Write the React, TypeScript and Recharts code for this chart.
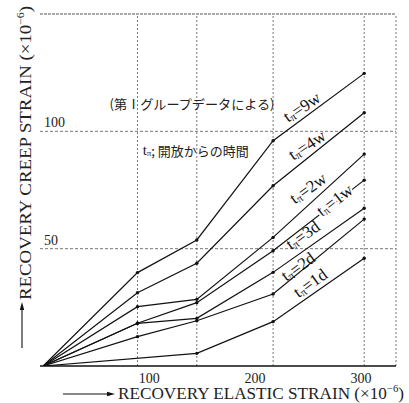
import React from 'react';
import { LineChart, Line, XAxis, YAxis, ReferenceLine, ReferenceDot } from 'recharts';

const SERIF = "'Liberation Serif', 'Noto Sans CJK JP', serif";
const CJK = "'Noto Sans CJK JP', 'Liberation Serif', serif";

// recovery elastic strain (x10^-6)
const xValues = [0, 89, 145, 217, 303];
// recovery creep strain (x10^-6) per age after unloading
const s9w = [0, 39.8, 53.7, 96.0, 124.7];
const s4w = [0, 31.2, 43.8, 76.8, 107.9];
const s2w = [0, 25.3, 28.4, 54.8, 90.3];
const s1w = [0, 18.2, 27.0, 49.1, 79.2];
const s3d = [0, 18.2, 20.3, 39.9, 67.2];
const s2d = [0, 12.5, 19.3, 30.7, 62.6];
const s1d = [0, null, 5.4, 18.9, 45.9];

const seriesKeys = ['s9w', 's4w', 's2w', 's1w', 's3d', 's2d', 's1d'];
const seriesArrays = [s9w, s4w, s2w, s1w, s3d, s2d, s1d];

const xTicks = [100, 200, 300];
const yTicks = [50, 100];
const xGrid = [89, 145, 217, 303];

const lineLabels = [
  { text: '9w', x: 244, y: 110.4, angle: -34 },
  { text: '4w', x: 249, y: 94.2, angle: -34 },
  { text: '2w', x: 250, y: 75.8, angle: -36 },
  { text: '1w', x: 275, y: 70.7, angle: -38, halo: true },
  { text: '3d', x: 245, y: 55.8, angle: -36 },
  { text: '2d', x: 240.5, y: 42.4, angle: -36 },
  { text: '1d', x: 252, y: 35.4, angle: -36 },
];

const note1 = '(第Ⅰグループデータによる)';
const note2 = '; 開放からの時間';

const data = xValues.map((x, i) => {
  const row: any = { x };
  seriesKeys.forEach((k, j) => {
    row[k] = seriesArrays[j][i];
  });
  return row;
});

const Dot = (props: any) => {
  const { cx, cy, index } = props;
  if (index === 0 || cx == null || cy == null || isNaN(cy)) return <g key={`e${index}`} />;
  return <circle key={`d${index}`} cx={cx} cy={cy} r={1.7} fill="#111" />;
};

const AxisTitles = () => (
  <g>
    <line x1={63} y1={394} x2={110} y2={394} stroke="#111" strokeWidth={1.1} />
    <polygon points="115,394 107,391.8 107,396.2" fill="#111" />
    <text x={118} y={399} fontSize={16} fontFamily={SERIF} fill="#222" textLength={286} lengthAdjust="spacingAndGlyphs">
      RECOVERY ELASTIC STRAIN (×10<tspan fontSize={10} dy={-7}>−6</tspan><tspan dy={7}>)</tspan>
    </text>
    <line x1={22} y1={348} x2={22} y2={308} stroke="#111" strokeWidth={1.1} />
    <polygon points="22,302 19.8,310 24.2,310" fill="#111" />
    <text x={31} y={300} transform="rotate(-90 31 300)" fontSize={16} fontFamily={SERIF} fill="#222" textLength={294} lengthAdjust="spacingAndGlyphs">
      RECOVERY CREEP STRAIN (×10<tspan fontSize={10} dy={-7}>−6</tspan><tspan dy={7}>)</tspan>
    </text>
  </g>
);

const LineLabel = (props: any) => {
  const { cx, cy, text, angle, halo } = props;
  if (cx == null || cy == null) return <g />;
  return (
    <text
      x={cx}
      y={cy}
      transform={`rotate(${angle} ${cx} ${cy})`}
      textAnchor="middle"
      dominantBaseline="central"
      fontSize={17}
      fontFamily={SERIF}
      fill="#111"
      stroke={halo ? '#fff' : 'none'}
      strokeWidth={halo ? 4 : 0}
      paintOrder="stroke"
    >
      t<tspan fontSize={11} dy={3}>π</tspan>
      <tspan dy={-3}>={text}</tspan>
    </text>
  );
};

const Note1 = (props: any) => {
  const { cx, cy } = props;
  if (cx == null) return <g />;
  return (
    <text x={cx} y={cy} textAnchor="middle" dominantBaseline="central" fontSize={13} fontFamily={CJK} fill="#222" textLength={165} lengthAdjust="spacingAndGlyphs">
      {note1}
    </text>
  );
};

const Note2 = (props: any) => {
  const { cx, cy } = props;
  if (cx == null) return <g />;
  return (
    <text x={cx} y={cy} textAnchor="middle" dominantBaseline="central" fontSize={13} fontFamily={CJK} fill="#222">
      <tspan fontFamily={SERIF} fontSize={15}>t</tspan>
      <tspan fontFamily={SERIF} fontSize={9} dy={3}>π</tspan>
      <tspan dy={-3}>{note2}</tspan>
    </text>
  );
};

export default function App() {
  return (
    <div style={{ position: 'absolute', left: 0, top: 0, width: 409, height: 403, background: '#fff' }}>
      <LineChart width={409} height={403} data={data} margin={{ top: 14, right: 13, bottom: 0, left: 40 }}>
        <XAxis
          dataKey="x"
          type="number"
          domain={[-3, 333]}
          ticks={xTicks}
          allowDataOverflow
          height={37}
          axisLine={{ stroke: '#111', strokeWidth: 1.3 }}
          tickLine={false}
          tickSize={5}
          tickMargin={2}
          tick={{ fontSize: 14, fill: '#222', fontFamily: SERIF }}
          label={<AxisTitles />}
        />
        <YAxis
          type="number"
          domain={[0, 150]}
          allowDataOverflow
          width={0}
          tick={false}
          tickLine={false}
          axisLine={{ stroke: '#111', strokeWidth: 1.3 }}
        />
        {xGrid.map((v) => (
          <ReferenceLine key={`vx${v}`} x={v} stroke="#555" strokeWidth={0.8} strokeDasharray="2 2" />
        ))}
        <ReferenceLine x={333} stroke="#555" strokeWidth={0.8} strokeDasharray="2 2" />
        <ReferenceLine y={150} stroke="#444" strokeWidth={0.9} strokeDasharray="3 1" />
        {yTicks.map((v) => (
          <ReferenceLine
            key={`hy${v}`}
            y={v}
            stroke="#555"
            strokeWidth={0.8}
            strokeDasharray="3 2"
            label={{ value: String(v), position: 'insideBottomLeft', offset: 4, fontSize: 14, fill: '#222', fontFamily: SERIF }}
          />
        ))}
        {seriesKeys.map((k) => (
          <Line
            key={k}
            type="linear"
            dataKey={k}
            stroke="#111"
            strokeWidth={1.2}
            dot={Dot}
            activeDot={false}
            connectNulls
            isAnimationActive={false}
          />
        ))}
        {lineLabels.map((l) => (
          <ReferenceDot
            key={`lab${l.text}`}
            x={l.x}
            y={l.y}
            r={1}
            fill="none"
            stroke="none"
            shape={(p: any) => <LineLabel {...p} text={l.text} angle={l.angle} halo={l.halo} />}
          />
        ))}
        <ReferenceDot x={140.5} y={112} r={1} fill="none" stroke="none" shape={(p: any) => <Note1 {...p} />} />
        <ReferenceDot x={144} y={92} r={1} fill="none" stroke="none" shape={(p: any) => <Note2 {...p} />} />
      </LineChart>
    </div>
  );
}
